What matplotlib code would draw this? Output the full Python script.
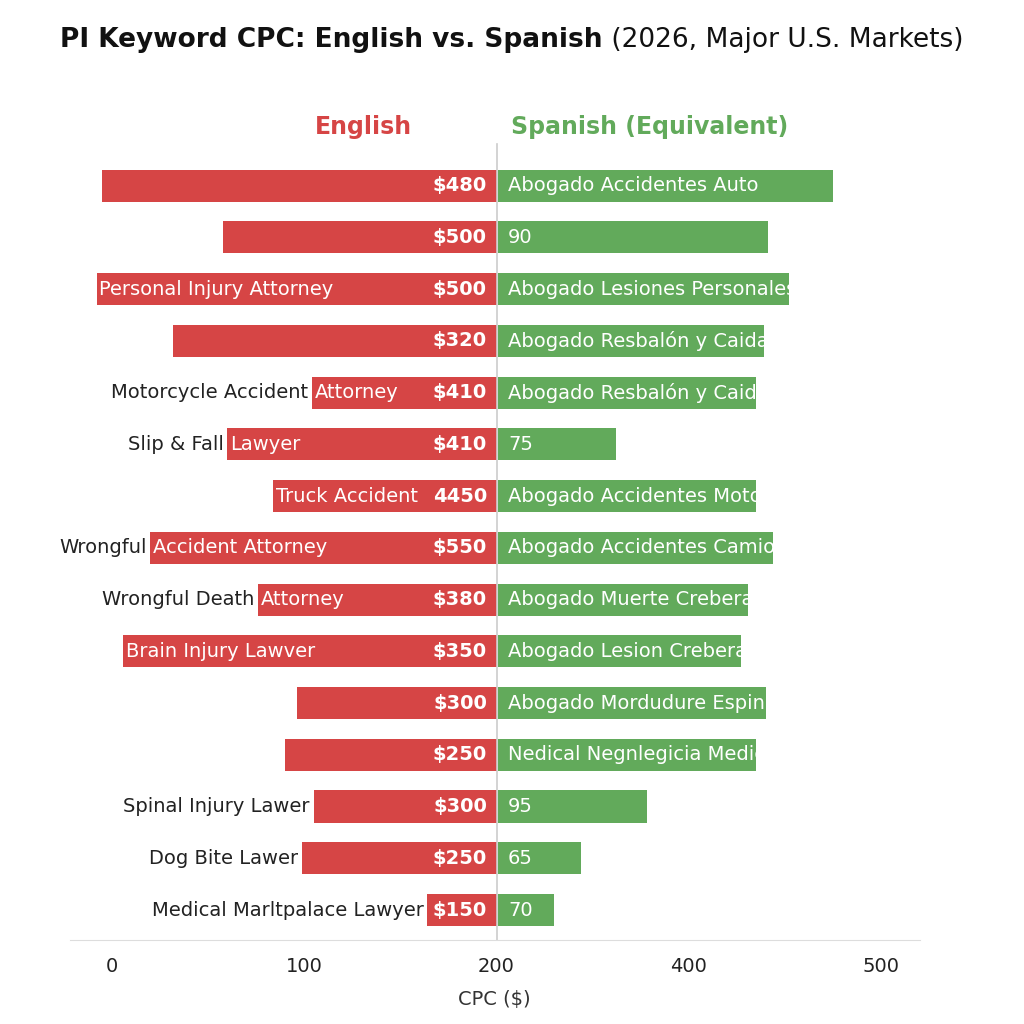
import matplotlib
matplotlib.use("Agg")
import matplotlib.pyplot as plt

eng_len = [205,142,208,168,96,140,116,180,124,194,104,110,95,101,36]
spa_len = [174,140,151,138,134,61,134,143,130,126,139,134,77,43,29]
eng_val = ["$480","$500","$500","$320","$410","$410","4450","$550","$380","$350","$300","$250","$300","$250","$150"]
eng_out = ["","","","","Motorcycle Accident","Slip & Fall","","Wrongful","Wrongful Death","","","","Spinal Injury Lawer","Dog Bite Lawer","Medical Marltpalace Lawyer"]
eng_in = ["","","Personal Injury Attorney","","Attorney","Lawyer","Truck Accident","Accident Attorney","Attorney","Brain Injury Lawver","","","","",""]
spa_lab = ["Abogado Accidentes Auto","90","Abogado Lesiones Personales","Abogado Resbalón y Caida","Abogado Resbalón y Caida","75","Abogado Accidentes Moto","Abogado Accidentes Camion","Abogado Muerte Creberal","Abogado Lesion Creberal","Abogado Mordudure Espinal","Nedical Negnlegicia Medica","95","65","70"]
tick_pos = [0,100,200,300,400]
tick_lab = ["0","100","200","400","500"]

RED = "#d64545"; GREEN = "#62aa5b"
C = 200
fig = plt.figure(figsize=(10.24,10.24), dpi=100)
ax = fig.add_axes([0.068,0.082,0.83,0.762])
n = len(eng_len)
y = list(range(n))
ax.barh(y, eng_len, left=[C-v for v in eng_len], height=0.62, color=RED)
ax.barh(y, spa_len, left=C+1, height=0.62, color=GREEN)
ax.axvline(C, color="#cccccc", lw=1.2, ymax=1.02, clip_on=False)
fs = 14
for i in y:
    ax.text(C-5, i, eng_val[i], ha="right", va="center", color="white", fontsize=fs, fontweight="bold")
    ax.text(C+6, i, spa_lab[i], ha="left", va="center", color="white", fontsize=fs)
    start = C-eng_len[i]
    if eng_out[i]:
        ax.text(start-2, i, eng_out[i], ha="right", va="center", color="#222222", fontsize=fs)
    if eng_in[i]:
        ax.text(start+1.5, i, eng_in[i], ha="left", va="center", color="white", fontsize=fs)
ax.set_xlim(-22, 420)
ax.set_ylim(n-0.42, -0.5)
ax.set_yticks([])
ax.set_xticks(tick_pos, tick_lab, fontsize=14, color="#222222")
ax.tick_params(axis="x", length=0, pad=12)
for s in ["top","left","right"]:
    ax.spines[s].set_visible(False)
ax.spines["bottom"].set_color("#dddddd")
ax.set_xlabel("CPC ($)", fontsize=14, color="#333333", labelpad=10)

fig.text(363/1024, 1-127/1024, "English", ha="center", va="center", color=RED, fontsize=17, fontweight="bold")
fig.text(650/1024, 1-127/1024, "Spanish (Equivalent)", ha="center", va="center", color=GREEN, fontsize=17, fontweight="bold")

t1 = fig.text(0, 1-40/1024, "PI Keyword CPC: English vs. Spanish", fontsize=19, fontweight="bold", va="center", color="#111111")
t2 = fig.text(0, 1-40/1024, " (2026, Major U.S. Markets)", fontsize=19, va="center", color="#111111")
r = fig.canvas.get_renderer()
w1 = t1.get_window_extent(r).width; w2 = t2.get_window_extent(r).width
x0 = (1024-(w1+w2))/2
t1.set_x(x0/1024); t2.set_x((x0+w1)/1024)
fig.savefig("out.png", dpi=100, facecolor="white")
